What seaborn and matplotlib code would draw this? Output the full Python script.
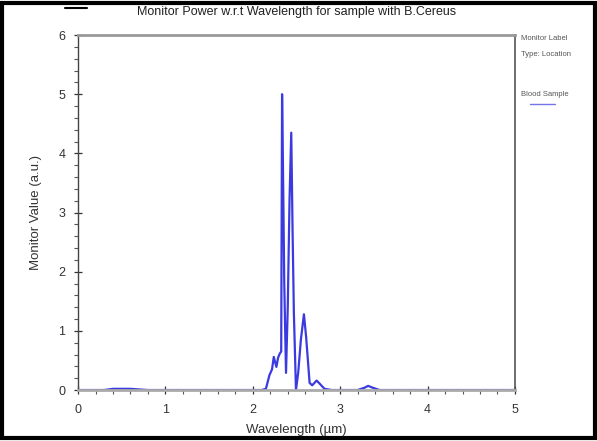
import matplotlib
matplotlib.use("Agg")
import matplotlib.pyplot as plt
import matplotlib.lines as mlines
import matplotlib.patches as mpatches
from matplotlib.ticker import MultipleLocator
import seaborn as sns
import pandas as pd

# Dữ liệu (Wavelength µm, Monitor Value a.u.)
wavelength = [0.0, 0.3, 0.4, 0.5, 0.6, 0.7, 0.8, 1.0, 1.5, 2.0, 2.1, 2.15,
              2.19, 2.22, 2.24, 2.27, 2.29, 2.31, 2.325, 2.335, 2.345, 2.36,
              2.38, 2.40, 2.42, 2.44, 2.455, 2.47, 2.494, 2.52, 2.55, 2.585,
              2.61, 2.65, 2.68, 2.73, 2.77, 2.82, 2.9, 3.0, 3.2, 3.28, 3.32,
              3.37, 3.45, 4.0, 5.0]
monitor_value = [0.0, 0.0, 0.02, 0.02, 0.02, 0.01, 0.0, 0.0, 0.0, 0.0, 0.0, 0.02,
                 0.25, 0.35, 0.56, 0.39, 0.55, 0.62, 0.65, 5.0, 3.8, 1.8,
                 0.29, 1.4, 3.2, 4.35, 2.7, 1.3, 0.0, 0.3, 0.85, 1.28,
                 0.9, 0.12, 0.08, 0.16, 0.1, 0.02, 0.0, 0.0, 0.0, 0.04, 0.07,
                 0.04, 0.0, 0.0, 0.0]

TITLE = "Monitor Power w.r.t Wavelength for sample with B.Cereus"
LINE_COLOR = "#3a3ae0"

sns.set_theme(style="ticks")
plt.rcParams['font.family'] = ['Liberation Sans', 'DejaVu Sans']

df = pd.DataFrame({"wavelength": wavelength, "value": monitor_value})

fig = plt.figure(figsize=(5.97, 4.41), dpi=100)
ax = fig.add_axes([0.1307, 0.1156, 0.7319, 0.805])

sns.lineplot(data=df, x="wavelength", y="value", color=LINE_COLOR,
             linewidth=1.6, estimator=None, ax=ax)

ax.set_xlim(0, 5)
ax.set_ylim(0, 6)
ax.xaxis.set_major_locator(MultipleLocator(1))
ax.xaxis.set_minor_locator(MultipleLocator(0.2))
ax.yaxis.set_major_locator(MultipleLocator(1))
ax.yaxis.set_minor_locator(MultipleLocator(0.2))
ax.tick_params(which="major", direction="inout", length=6, width=0.9,
               labelsize=9, colors="#333333")
ax.tick_params(axis="x", which="major", pad=7)
ax.tick_params(axis="y", which="major", pad=6)
ax.tick_params(which="minor", direction="out", length=3, width=0.8,
               colors="#555555")

for side in ["left", "bottom"]:
    ax.spines[side].set_color("#444444")
    ax.spines[side].set_linewidth(1.0)
ax.spines["top"].set_visible(True)
ax.spines["top"].set_color("#999999")
ax.spines["top"].set_linewidth(2)
ax.spines["right"].set_visible(True)
ax.spines["right"].set_color("#555555")
ax.spines["right"].set_linewidth(1.2)
ax.spines["bottom"].set_color("#aaaaaa")
ax.spines["bottom"].set_linewidth(2)

ax.set_xlabel("Wavelength (µm)", fontsize=9.5, color="#333333", labelpad=6)
ax.set_ylabel("Monitor Value (a.u.)", fontsize=9.5, color="#333333", labelpad=12)
fig.text(0.497, 0.972, TITLE, ha="center", va="center", fontsize=9, color="#222222")

# Chú thích bên phải
fig.text(0.873, 0.912, "Monitor Label", fontsize=5.5, color="#555555", va="center")
fig.text(0.873, 0.877, "Type: Location", fontsize=5.5, color="#555555", va="center")
fig.text(0.873, 0.786, "Blood Sample", fontsize=5.5, color="#555555", va="center")
fig.add_artist(mlines.Line2D([0.888, 0.930], [0.765, 0.765], color=LINE_COLOR,
                             linewidth=1.0, alpha=0.7))

# Khung đen bao quanh ảnh
fig.add_artist(mpatches.Rectangle((0.003, 0.006), 0.994, 0.988, fill=False,
                                  edgecolor="black", linewidth=3,
                                  transform=fig.transFigure))
fig.add_artist(mlines.Line2D([0.109, 0.146], [0.982, 0.982], color="black",
                             linewidth=1.5))

fig.savefig("out.png", dpi=100, facecolor="white")
plt.close(fig)
